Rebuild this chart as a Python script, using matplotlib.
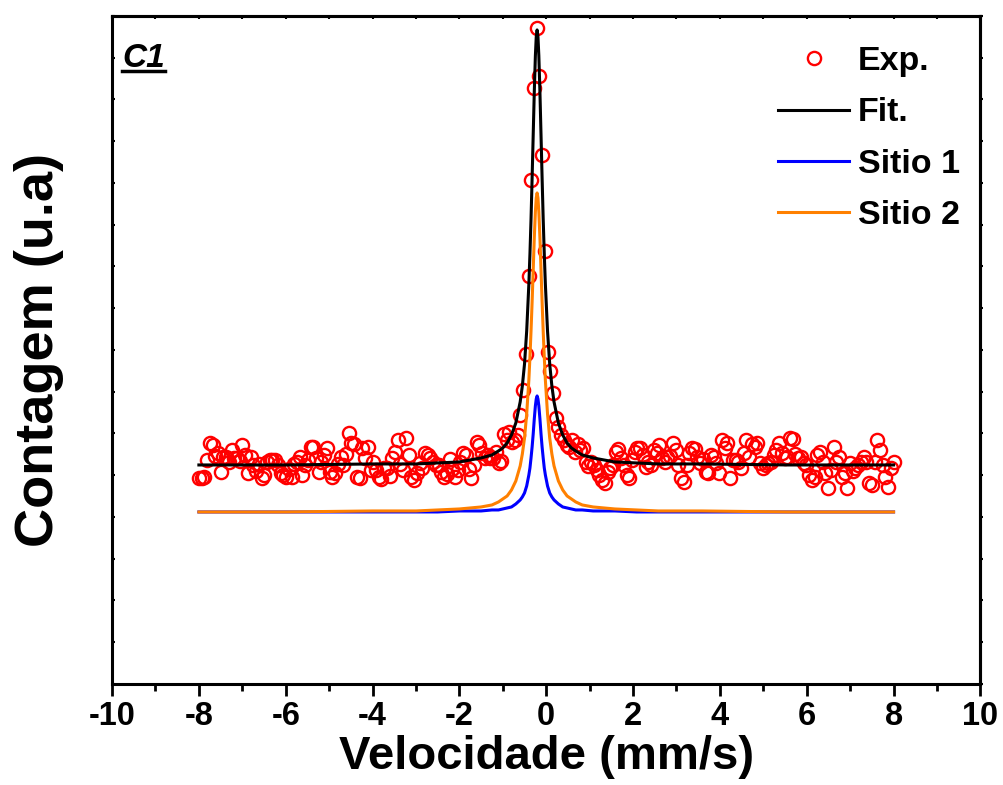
import matplotlib
matplotlib.use("Agg")
import matplotlib.pyplot as plt
from matplotlib.ticker import MultipleLocator, NullFormatter
import numpy as np

plt.rcParams["font.family"] = ["Liberation Sans", "DejaVu Sans"]
plt.rcParams["font.weight"] = "bold"
plt.rcParams["axes.unicode_minus"] = False

# experimental counts (arbitrary units), 256 channels from -8 to 8 mm/s
counts = [
    206, 206, 207, 224, 241, 239, 228, 231, 212, 227, 227, 222, 234, 226, 226, 223,
    239, 229, 211, 227, 219, 213, 220, 206, 209, 222, 224, 224, 224, 219, 211, 209,
    207, 215, 207, 220, 222, 227, 209, 219, 224, 237, 237, 226, 212, 222, 229, 236,
    212, 207, 211, 220, 227, 219, 230, 251, 241, 240, 207, 206, 236, 226, 237, 214,
    222, 214, 207, 205, 216, 216, 208, 226, 232, 244, 220, 214, 246, 229, 207, 204,
    211, 221, 216, 231, 229, 226, 222, 219, 219, 212, 207, 210, 225, 215, 207, 214,
    222, 231, 229, 215, 206, 219, 242, 239, 231, 226, 229, 226, 226, 232, 221, 223,
    250, 244, 252, 242, 244, 249, 269, 294, 330, 408, 504, 596, 656, 608, 529, 433,
    332, 313, 291, 266, 257, 249, 244, 239, 237, 244, 232, 240, 234, 236, 222, 218,
    222, 219, 214, 209, 204, 201, 212, 216, 219, 232, 235, 226, 219, 209, 206, 224,
    232, 236, 236, 229, 217, 222, 219, 234, 231, 239, 226, 222, 227, 228, 241, 234,
    219, 206, 202, 219, 231, 236, 235, 227, 221, 225, 212, 211, 229, 227, 221, 211,
    244, 236, 241, 206, 224, 224, 222, 216, 231, 244, 227, 240, 237, 241, 221, 216,
    219, 221, 222, 229, 234, 241, 231, 226, 227, 246, 245, 230, 226, 227, 221, 219,
    209, 204, 207, 229, 232, 222, 211, 196, 214, 237, 222, 227, 207, 211, 196, 221,
    213, 216, 219, 222, 227, 222, 201, 199, 222, 244, 234, 219, 207, 197, 216, 222,
]
velocity = np.linspace(-8, 8, len(counts))

# fitted curves
curve_x = [-8, -6, -4, -3, -2.5, -2, -1.5, -1.25, -1.1, -1.0, -0.9, -0.8, -0.7,
           -0.6, -0.55, -0.5, -0.45, -0.4, -0.375, -0.35, -0.325, -0.3, -0.275,
           -0.25, -0.23, -0.21, -0.19, -0.17, -0.145, -0.12, -0.095, -0.07, -0.045,
           -0.02, 0.03, 0.08, 0.13, 0.18, 0.28, 0.38, 0.48, 0.58, 0.68, 0.83, 1.08,
           1.58, 2.08, 2.58, 3.58, 5.58, 8]
fit_y = [219, 219, 220, 220, 221, 222, 226, 229, 233, 236, 241, 249, 261,
         282, 298, 320, 353, 400, 430, 465, 506, 549, 592,
         628, 647, 654, 647, 628, 592, 549, 506, 465, 430,
         400, 353, 320, 298, 282, 261, 249, 241, 236, 233, 229, 226,
         222, 221, 220, 220, 219, 219]
sitio1_y = [172, 172, 172, 172, 172, 173, 173, 174, 174, 175, 176, 177, 180,
            184, 187, 191, 198, 209, 216, 226, 237, 250, 265,
            278, 285, 288, 285, 278, 265, 250, 237, 226, 216,
            209, 198, 191, 187, 184, 180, 177, 176, 175, 174, 174, 173,
            173, 172, 172, 172, 172, 172]
sitio2_y = [172, 172, 173, 173, 174, 175, 177, 179, 182, 185, 188, 194, 203,
            218, 230, 246, 270, 304, 327, 353, 382, 414, 446,
            472, 486, 491, 486, 472, 446, 414, 382, 353, 327,
            304, 270, 246, 230, 218, 203, 194, 188, 185, 182, 179, 177,
            175, 174, 173, 173, 172, 172]

y_max = 668
y_step = y_max / 16

fig = plt.figure(figsize=(10.04, 7.85), dpi=100)
ax = fig.add_axes([0.1116, 0.1287, 0.8649, 0.851])

ax.plot(velocity, counts, "o", mfc="none", mec="#FF0000", ms=9.5, mew=1.7,
        label="Exp.", zorder=2)
ax.plot(curve_x, fit_y, color="black", lw=2.2, label="Fit.", zorder=3)
ax.plot(curve_x, sitio1_y, color="#0000FF", lw=2.2, label="Sitio 1", zorder=3)
ax.plot(curve_x, sitio2_y, color="#FF8000", lw=2.2, label="Sitio 2", zorder=3)

ax.set_xlim(-10, 10)
ax.set_ylim(0, y_max)
ax.xaxis.set_major_locator(MultipleLocator(2))
ax.xaxis.set_minor_locator(MultipleLocator(1))
ax.yaxis.set_major_locator(MultipleLocator(y_step))
ax.yaxis.set_major_formatter(NullFormatter())

for s in ax.spines.values():
    s.set_linewidth(2.2)

ax.tick_params(axis="x", which="major", direction="out", length=8.5, width=2,
               labelsize=23.5, pad=4)
ax.tick_params(axis="x", which="minor", direction="out", length=5, width=2)
ax.tick_params(axis="y", which="major", direction="in", length=2.5, width=1.5)

top = ax.secondary_xaxis("top")
top.xaxis.set_major_locator(MultipleLocator(1))
top.xaxis.set_major_formatter(NullFormatter())
top.tick_params(direction="in", length=2.5, width=1.5)
top.spines["top"].set_linewidth(2.2)

right = ax.secondary_yaxis("right")
right.yaxis.set_major_locator(MultipleLocator(y_step))
right.yaxis.set_major_formatter(NullFormatter())
right.tick_params(direction="out", length=2.5, width=1.5)
right.spines["right"].set_linewidth(2.2)

ax.set_xlabel("Velocidade (mm/s)", fontsize=34, fontweight="bold", labelpad=2)
ax.set_ylabel("Contagem (u.a)", fontsize=39, fontweight="bold", labelpad=31)

for lab in ax.get_xticklabels():
    lab.set_fontweight("bold")

leg = ax.legend(loc="upper right", bbox_to_anchor=(1.0, 0.985), frameon=False,
                fontsize=24.5, handlelength=2.1, handletextpad=0.26,
                labelspacing=0.6, borderaxespad=0.19, numpoints=1)
for t in leg.get_texts():
    t.set_fontweight("bold")

c1 = ax.text(0.0115, 0.924, "C1", transform=ax.transAxes, fontsize=24,
             fontweight="bold", fontstyle="italic", ha="left", va="baseline")
fig.canvas.draw()
bb = c1.get_window_extent().transformed(ax.transAxes.inverted())
ax.plot([bb.x0, bb.x1], [0.917, 0.917], color="black", lw=2.5,
        transform=ax.transAxes, clip_on=False)

fig.savefig("out.png", dpi=100)
